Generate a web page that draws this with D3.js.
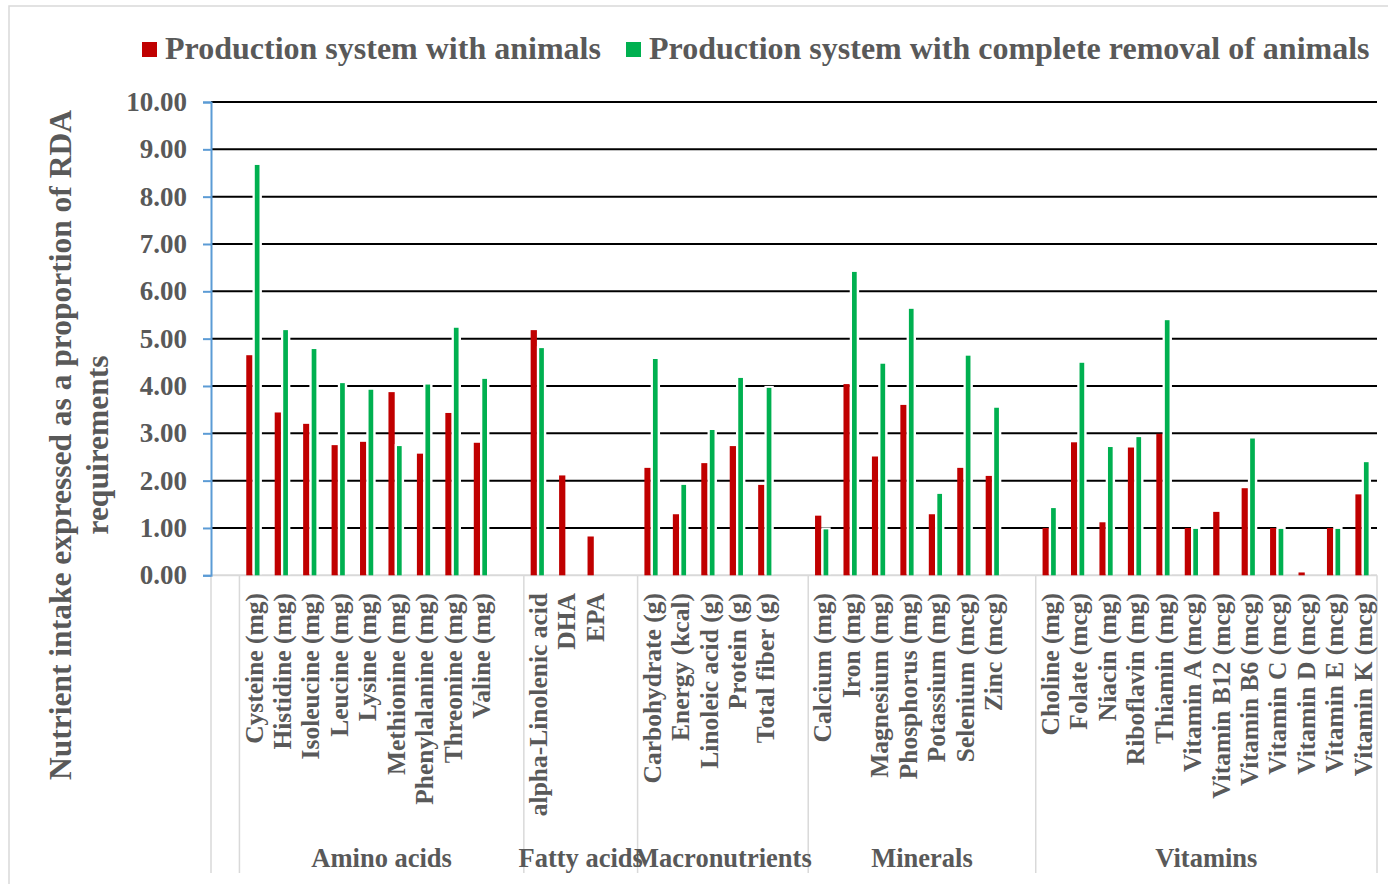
<!DOCTYPE html>
<html lang="en">
<head>
<meta charset="UTF-8">
<title>RDA chart</title>
<script src="https://cdn.jsdelivr.net/npm/d3@7"></script>
<style>
  body { margin: 0; background: #fff; }
  svg { display: block; }
  text { font-family: "Liberation Serif", "Times New Roman", serif; font-weight: bold; fill: #595959; }
</style>
</head>
<body>
<script>
const width = 1388, height = 884;

// groups and their nutrients
const groups = ["Amino acids", "Fatty acids", "Macronutrients", "Minerals", "Vitamins"];
const aminoAcids = ["Cysteine (mg)", "Histidine (mg)", "Isoleucine (mg)", "Leucine (mg)", "Lysine (mg)",
                    "Methionine (mg)", "Phenylalanine (mg)", "Threonine (mg)", "Valine (mg)"];
const fattyAcids = ["alpha-Linolenic acid", "DHA", "EPA"];
const macronutrients = ["Carbohydrate (g)", "Energy (kcal)", "Linoleic acid (g)", "Protein (g)", "Total fiber (g)"];
const minerals = ["Calcium (mg)", "Iron (mg)", "Magnesium (mg)", "Phosphorus (mg)", "Potassium (mg)",
                  "Selenium (mcg)", "Zinc (mcg)"];
const vitamins = ["Choline (mg)", "Folate (mcg)", "Niacin (mg)", "Riboflavin (mg)", "Thiamin (mg)",
                  "Vitamin A (mcg)", "Vitamin B12 (mcg)", "Vitamin B6 (mcg)", "Vitamin C (mcg)",
                  "Vitamin D (mcg)", "Vitamin E (mcg)", "Vitamin K (mcg)"];
const groupItems = [aminoAcids, fattyAcids, macronutrients, minerals, vitamins];

// values in the same order as the nutrients above (null = no bar)
const withAnimals = [4.65, 3.44, 3.20, 2.75, 2.82, 3.87, 2.57, 3.43, 2.80,
                     5.18, 2.11, 0.82,
                     2.27, 1.29, 2.37, 2.73, 1.91,
                     1.26, 4.04, 2.51, 3.60, 1.29, 2.27, 2.10,
                     1.00, 2.81, 1.12, 2.70, 2.99, 1.00, 1.34, 1.84, 1.00, 0.06, 1.00, 1.71];
const withoutAnimals = [8.67, 5.18, 4.78, 4.06, 3.92, 2.73, 4.03, 5.23, 4.15,
                        4.80, null, null,
                        4.57, 1.91, 3.07, 4.17, 3.96,
                        0.97, 6.41, 4.47, 5.63, 1.72, 4.64, 3.54,
                        1.42, 4.49, 2.71, 2.92, 5.39, 0.98, null, 2.89, 0.98, null, 0.98, 2.39];

const seriesNames = ["Production system with animals", "Production system with complete removal of animals"];
const colors = ["#C00000", "#00B050"];
const yTicks = [0, 1, 2, 3, 4, 5, 6, 7, 8, 9, 10];

// slot list: one blank slot first, then each group followed by a blank slot (except the last)
const slots = [{key: "blank0"}];
const bars = [];
let k = 0;
groupItems.forEach((items, gi) => {
  items.forEach(name => {
    slots.push({key: name, group: gi});
    bars.push({name, a: withAnimals[k], b: withoutAnimals[k]});
    k++;
  });
  if (gi < groupItems.length - 1) slots.push({key: "blank" + (gi + 1), group: gi});
});

const plotL = 211, plotR = 1377, plotT = 102, plotB = 575.3;

const x = d3.scaleBand().domain(slots.map(d => d.key)).range([plotL, plotR]).padding(0);
const y = d3.scaleLinear().domain([0, 10]).range([plotB, plotT]);
const bw = x.bandwidth();

const svg = d3.select("body").append("svg").attr("width", width).attr("height", height);

// outer chart border
svg.append("rect").attr("x", 9).attr("y", 6).attr("width", 1390).attr("height", 900)
   .attr("fill", "none").attr("stroke", "#d9d9d9").attr("stroke-width", 1.5);

// gridlines
svg.append("g").selectAll("line").data(yTicks.filter(d => d > 0)).join("line")
   .attr("x1", plotL).attr("x2", plotR)
   .attr("y1", d => y(d)).attr("y2", d => y(d))
   .attr("stroke", "#000").attr("stroke-width", 2);

// x axis baseline
svg.append("line").attr("x1", plotL).attr("x2", plotR).attr("y1", y(0)).attr("y2", y(0))
   .attr("stroke", "#d9d9d9").attr("stroke-width", 2);

// group separators
const groupStart = groups.map((g, gi) => x(groupItems[gi][0]));
const seps = [plotL, ...groupStart, plotR];
svg.append("g").selectAll("line").data(seps).join("line")
   .attr("x1", d => d).attr("x2", d => d).attr("y1", y(0)).attr("y2", 873)
   .attr("stroke", "#d9d9d9").attr("stroke-width", 1.5);

// bars
const barG = svg.append("g");
barG.selectAll("rect.a").data(bars.filter(d => d.a != null)).join("rect").attr("class", "a")
   .attr("x", d => x(d.name) + bw * 0.24).attr("width", bw * 0.22)
   .attr("y", d => y(d.a)).attr("height", d => y(0) - y(d.a))
   .attr("fill", colors[0]);
// white halo round green bars
barG.selectAll("rect.h").data(bars.filter(d => d.b != null)).join("rect").attr("class", "h")
   .attr("x", d => x(d.name) + bw * 0.46).attr("width", bw * 0.33)
   .attr("y", d => y(d.b) - 2).attr("height", d => y(0) - y(d.b) + 1)
   .attr("fill", "#fff");
barG.selectAll("rect.b").data(bars.filter(d => d.b != null)).join("rect").attr("class", "b")
   .attr("x", d => x(d.name) + bw * 0.54).attr("width", bw * 0.165)
   .attr("y", d => y(d.b)).attr("height", d => y(0) - y(d.b))
   .attr("fill", colors[1]);

// y axis
const yAxis = svg.append("g").attr("transform", `translate(${plotL},0)`)
   .call(d3.axisLeft(y).tickValues(yTicks).tickFormat(d3.format(".2f")).tickSize(8).tickPadding(16));
yAxis.select(".domain").attr("stroke", "#5B9BD5").attr("stroke-width", 2);
yAxis.selectAll(".tick line").attr("stroke", "#5B9BD5").attr("stroke-width", 2);
yAxis.selectAll(".tick text").attr("fill", "#595959").style("font-size", "27px")
   .style("font-family", "'Liberation Serif', 'Times New Roman', serif").style("font-weight", "bold");

// category labels
svg.append("g").selectAll("text").data(bars).join("text")
   .attr("transform", d => `translate(${x(d.name) + bw / 2},593) rotate(-90)`)
   .attr("text-anchor", "end").attr("dy", "0.35em")
   .style("font-size", "25.5px")
   .text(d => d.name);

// group labels
svg.append("g").selectAll("text").data(groups).join("text")
   .attr("x", (d, i) => (seps[i + 1] + seps[i + 2]) / 2)
   .attr("y", 867).attr("text-anchor", "middle")
   .style("font-size", "26.5px")
   .text(d => d);

// y axis title
const title = svg.append("g").attr("transform", "translate(0,445)");
title.append("text").attr("transform", "translate(60,0) rotate(-90)")
   .attr("text-anchor", "middle").attr("dy", "0.35em").style("font-size", "31.5px")
   .text("Nutrient intake expressed as a proportion of RDA");
title.append("text").attr("transform", "translate(97,0) rotate(-90)")
   .attr("text-anchor", "middle").attr("dy", "0.35em").style("font-size", "31.5px")
   .text("requirements");

// legend
const legendX = [142, 626];
const legend = svg.append("g").selectAll("g").data(seriesNames).join("g")
   .attr("transform", (d, i) => `translate(${legendX[i]},42)`);
legend.append("rect").attr("width", 15).attr("height", 15).attr("fill", (d, i) => colors[i]);
legend.append("text").attr("x", 23).attr("y", 17).style("font-size", "32px").text(d => d);
</script>
</body>
</html>
